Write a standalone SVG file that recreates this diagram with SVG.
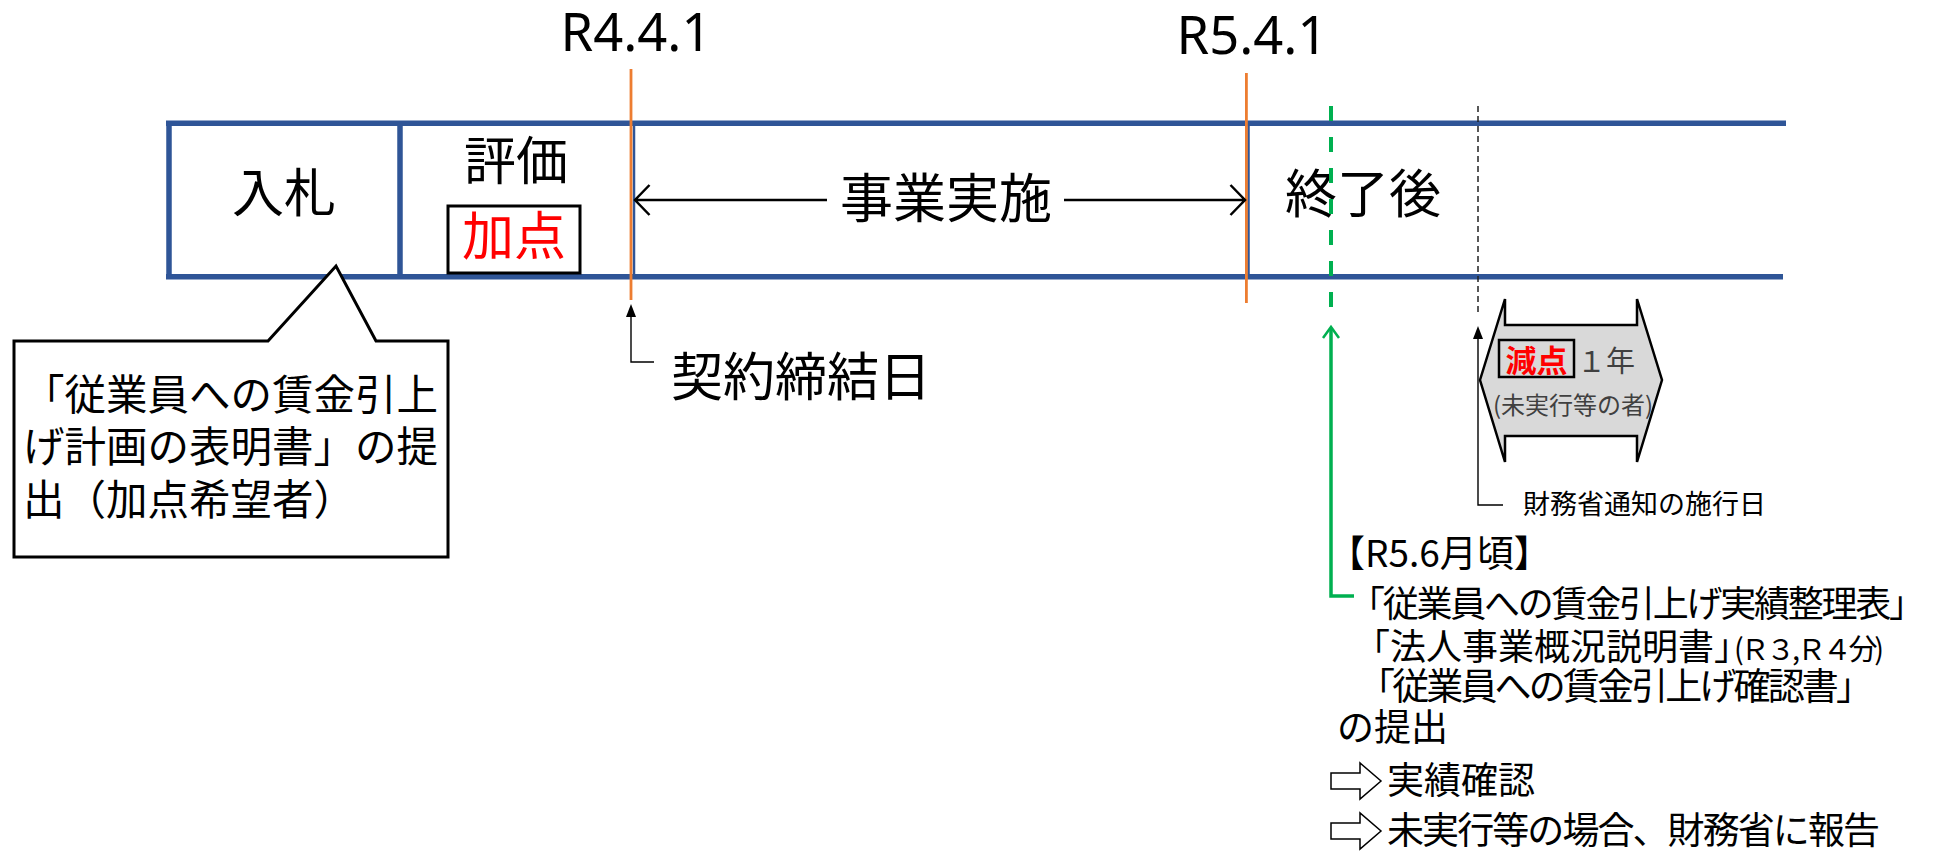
<svg xmlns="http://www.w3.org/2000/svg" width="1950" height="851" viewBox="0 0 1950 851" xml:lang="ja">
<defs>
<style>
.jp{font-family:'Noto Sans CJK JP','Noto Sans CJK SC',sans-serif;fill:#000}
.lat{font-family:'Noto Sans','Liberation Sans',sans-serif;fill:#000}
.blue{stroke:#2F5597;stroke-width:5.5;fill:none}
.orange{stroke:#ED7D31;stroke-width:2.8;fill:none}
.thin{stroke:#000;stroke-width:1.4;fill:none}
.red{fill:#FF0000}
.gray{fill:#404040}
.blk{fill:#fff;stroke:#000;stroke-width:1.5;stroke-linejoin:miter}
</style>
</defs>
<rect width="1950" height="851" fill="#fff"/>

<g id="timeline">
<path class="blue" d="M166,123.3 H1786 M166,276.7 H1783 M169,123.3 V276.7 M400,123.3 V276.7"/>
<path d="M634,123 V277 M1248.5,123 V277" stroke="#2F5597" stroke-width="2.5" fill="none"/>
</g>

<g id="date-r4">
<text class="lat" x="636" y="51" font-size="52.5" text-anchor="middle">R4.4.1</text>
<line class="orange" x1="631" y1="69" x2="631" y2="300"/>
</g>
<g id="date-r5">
<text class="lat" x="1252" y="54" font-size="52.5" text-anchor="middle">R5.4.1</text>
<line class="orange" x1="1246.4" y1="73" x2="1246.4" y2="303"/>
</g>

<g id="node-nyusatsu">
<text class="jp" x="284" y="212" font-size="52" text-anchor="middle">入札</text>
</g>
<g id="node-hyoka">
<text class="jp" x="516" y="180" font-size="52" text-anchor="middle">評価</text>
<rect x="448" y="206" width="132" height="67" fill="#fff" stroke="#000" stroke-width="3"/>
<text class="jp red" x="514" y="255" font-size="52" text-anchor="middle">加点</text>
</g>
<g id="node-jigyo">
<text class="jp" x="946" y="218" font-size="53" text-anchor="middle">事業実施</text>
</g>
<g id="node-shuryo">
<text class="jp" x="1363" y="213" font-size="52" text-anchor="middle">終了後</text>
</g>

<g id="connectors">
<path d="M635,200 H827 M649.5,185 L635,200 L649.5,215" stroke="#000" stroke-width="2.5" fill="none"/>
<path d="M1064,200 H1245 M1230.5,185 L1245,200 L1230.5,215" stroke="#000" stroke-width="2.5" fill="none"/>
<path class="thin" d="M631,314 V362 H654"/>
<path d="M631,304 L626,317 L636,317 Z" fill="#000"/>
<line x1="1331" y1="106" x2="1331" y2="308" stroke="#00B050" stroke-width="4" stroke-dasharray="15 16"/>
<path d="M1331,328 V596 H1354" stroke="#00B050" stroke-width="3.5" fill="none"/>
<path d="M1323,338 L1331,327 L1339,338" stroke="#00B050" stroke-width="2.5" fill="none"/>
<line x1="1478" y1="106" x2="1478" y2="313" stroke="#222" stroke-width="1.5" stroke-dasharray="6 4"/>
<path class="thin" d="M1478,336 V505 H1503"/>
<path d="M1478,326 L1473,339 L1483,339 Z" fill="#000"/>
</g>

<g id="label-keiyaku">
<text class="jp" x="671" y="396" font-size="52">契約締結日</text>
</g>

<g id="callout">
<path d="M14,341 H268 L336,266 L376,341 H448 V557 H14 Z" fill="#fff" stroke="#000" stroke-width="3" stroke-linejoin="miter"/>
<text class="jp" font-size="41.5">
<tspan x="23" y="410">「従業員への賃金引上</tspan>
<tspan x="23" y="462">げ計画の表明書」の提</tspan>
<tspan x="23" y="515">出（加点希望者）</tspan>
</text>
</g>

<g id="genten">
<path d="M1480,380 L1505,299 V325 H1637 V299 L1662,380 L1637,462 V436 H1505 V462 Z" fill="#D9D9D9" stroke="#000" stroke-width="2.5" stroke-linejoin="miter"/>
<rect x="1499" y="340" width="75" height="37" fill="none" stroke="#000" stroke-width="2.5"/>
<text class="jp red" x="1536.5" y="372" font-size="31" font-weight="bold" text-anchor="middle">減点</text>
<text class="jp gray" x="1577" y="372" font-size="29">１年</text>
<text class="jp gray" x="1573" y="414" font-size="24" text-anchor="middle">(未実行等の者)</text>
</g>

<g id="label-zaimu">
<text class="jp" x="1523" y="514" font-size="27" fill="#222">財務省通知の施行日</text>
</g>

<g id="submission">
<text class="jp" x="1328" y="567" font-size="37">【R5.6月頃】</text>
<text class="jp" x="1349" y="617" font-size="36" textLength="576" lengthAdjust="spacing">「従業員への賃金引上げ実績整理表」</text>
<text class="jp" x="1354" y="660" font-size="36">「法人事業概況説明書」</text>
<text class="jp" x="1734" y="660" font-size="29" textLength="150" lengthAdjust="spacing">(Ｒ３,Ｒ４分)</text>
<text class="jp" x="1358" y="700" font-size="37" textLength="515" lengthAdjust="spacing">「従業員への賃金引上げ確認書」</text>
<text class="jp" x="1337" y="741" font-size="37">の提出</text>
</g>

<g id="result1">
<path class="blk" d="M1331,773 H1360 V763 L1381,781 L1360,799 V789 H1331 Z"/>
<text class="jp" x="1387" y="794" font-size="37">実績確認</text>
</g>
<g id="result2">
<path class="blk" d="M1331,823 H1360 V813 L1381,831 L1360,849 V839 H1331 Z"/>
<text class="jp" x="1387" y="844" font-size="37" textLength="493" lengthAdjust="spacing">未実行等の場合、財務省に報告</text>
</g>
</svg>
